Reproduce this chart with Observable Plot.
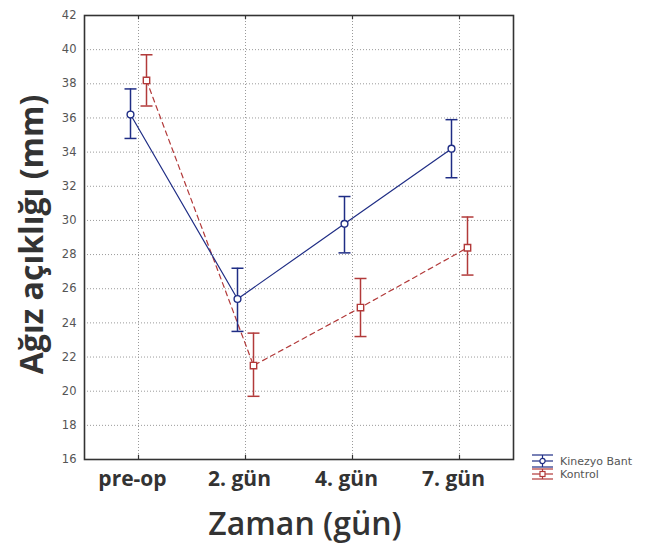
<!DOCTYPE html>
<html>
<head>
<meta charset="utf-8">
<script src="https://cdn.jsdelivr.net/npm/d3@7"></script>
<script src="https://cdn.jsdelivr.net/npm/@observablehq/plot@0.6"></script>
<style>
  html, body { margin: 0; padding: 0; background: #fff; }
  #wrap { position: relative; width: 649px; height: 546px; overflow: hidden; }
  #legend { position: absolute; left: 526px; top: 448px; }
</style>
</head>
<body>
<div id="wrap"></div>
<script>
const categories = ["pre-op", "2. gün", "4. gün", "7. gün"];
const seriesNames = ["Kinezyo Bant", "Kontrol"];
const kinezyoMean = [36.2, 25.4, 29.8, 34.2];
const kinezyoLow  = [34.8, 23.5, 28.1, 32.5];
const kinezyoHigh = [37.7, 27.2, 31.4, 35.9];
const kontrolMean = [38.2, 21.5, 24.9, 28.4];
const kontrolLow  = [36.7, 19.7, 23.2, 26.8];
const kontrolHigh = [39.7, 23.4, 26.6, 30.2];
const yTicks = [16, 18, 20, 22, 24, 26, 28, 30, 32, 34, 36, 38, 40, 42];
const yLabel = "Ağız açıklığı (mm)";
const xLabel = "Zaman (gün)";

const blue = "#1f2d85";
const red = "#b23a3a";

const kin = categories.map((c, i) => ({cat: c, mean: kinezyoMean[i], lo: kinezyoLow[i], hi: kinezyoHigh[i]}));
const kon = categories.map((c, i) => ({cat: c, mean: kontrolMean[i], lo: kontrolLow[i], hi: kontrolHigh[i]}));

const capSymbol = {
  draw(ctx, size) {
    const r = Math.sqrt(size / Math.PI);
    ctx.moveTo(-r, 0);
    ctx.lineTo(r, 0);
  }
};

function seriesMarks(data, color, dx, symbol, dash) {
  return [
    Plot.line(data, {x: "cat", y: "mean", stroke: color, strokeWidth: 1.2, strokeDasharray: dash, dx}),
    Plot.ruleX(data, {x: "cat", y1: "lo", y2: "hi", stroke: color, strokeWidth: 1.5, dx}),
    Plot.dot(data, {x: "cat", y: "lo", symbol: capSymbol, r: 6, stroke: color, strokeWidth: 1.5, fill: "none", dx}),
    Plot.dot(data, {x: "cat", y: "hi", symbol: capSymbol, r: 6, stroke: color, strokeWidth: 1.5, fill: "none", dx}),
    Plot.dot(data, {x: "cat", y: "mean", symbol, r: symbol === "square" ? 3.6 : 3.4, stroke: color, strokeWidth: 1.4, fill: "white", dx})
  ];
}

const chart = Plot.plot({
  width: 649,
  height: 546,
  marginLeft: 84,
  marginRight: 136,
  marginTop: 15,
  marginBottom: 87,
  style: {background: "white"},
  x: {type: "point", domain: categories, padding: 0.5},
  y: {domain: [16, 42]},
  marks: [
    Plot.gridY(yTicks, {stroke: "#9a9a9a", strokeOpacity: 1, strokeDasharray: "1,2"}),
    Plot.gridX(categories, {stroke: "#9a9a9a", strokeOpacity: 1, strokeDasharray: "1,2"}),
    Plot.axisY(yTicks, {tickSize: 0, tickPadding: 8, fontSize: 11.5, fontFamily: "DejaVu Sans, sans-serif", color: "#555", label: null}),
    Plot.axisX({tickSize: 0, tickPadding: 12, dx: -6, fontSize: 21, fontWeight: "bold", fontFamily: "Open Sans, sans-serif", color: "#333", label: null}),
    Plot.ruleX(categories, {x: d => d, y1: 42, y2: 41.75, stroke: "#333", strokeWidth: 1.2}),
    Plot.ruleX(categories, {x: d => d, y1: 16, y2: 16.25, stroke: "#333", strokeWidth: 1.2}),
    ...seriesMarks(kon, red, 8, "square", "5,4"),
    ...seriesMarks(kin, blue, -8, "circle", null),
    Plot.frame({stroke: "#333", strokeWidth: 1.6}),
    Plot.text([yLabel], {frameAnchor: "left", textAnchor: "middle", rotate: -90, dx: -52, dy: -3, fontSize: 32, fontWeight: "bold", fontFamily: "Open Sans, sans-serif", fill: "#333", text: d => d}),
    Plot.text([xLabel], {frameAnchor: "bottom", dx: 6, dy: 75, fontSize: 32, fontWeight: 600, fontFamily: "Open Sans, sans-serif", fill: "#333", text: d => d})
  ]
});
document.getElementById("wrap").append(chart);

// legend
const lg = d3.select("#wrap").append("svg").attr("id", "legend").attr("width", 123).attr("height", 40);
const rows = [
  {name: seriesNames[0], color: blue, symbol: "circle", cy: 13, half: 6},
  {name: seriesNames[1], color: red, symbol: "square", cy: 26, half: 5}
];
rows.forEach(r => {
  const g = lg.append("g").attr("transform", `translate(0,${r.cy})`);
  for (const yy of [-r.half, 0, r.half]) {
    g.append("line").attr("x1", 6).attr("x2", 27).attr("y1", yy).attr("y2", yy).attr("stroke", r.color).attr("stroke-width", 1.2);
  }
  g.append("line").attr("x1", 16.5).attr("x2", 16.5).attr("y1", -r.half).attr("y2", r.half).attr("stroke", r.color).attr("stroke-width", 1.2);
  if (r.symbol === "circle") g.append("circle").attr("cx", 16.5).attr("cy", 0).attr("r", 2.6).attr("fill", "white").attr("stroke", r.color).attr("stroke-width", 1.2);
  else g.append("rect").attr("x", 14).attr("y", -2.5).attr("width", 5).attr("height", 5).attr("fill", "white").attr("stroke", r.color).attr("stroke-width", 1.2);
  g.append("text").attr("x", 34).attr("y", 0).attr("dy", "0.35em").attr("font-size", 11).attr("font-family", "DejaVu Sans, sans-serif").attr("fill", "#555").text(r.name);
});
</script>
</body>
</html>
